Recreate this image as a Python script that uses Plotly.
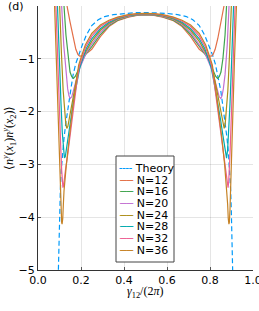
import plotly.graph_objects as go

# ---------------- data ----------------
series_names = ["Theory", "N=12", "N=16", "N=20", "N=24", "N=28", "N=32", "N=36"]
series_colors = ["#009AFA", "#E36F47", "#3EA44E", "#C371D2", "#AC8E18", "#00AAAE", "#ED5E93", "#C68225"]

theory_x = [0.093, 0.096, 0.098, 0.101, 0.104, 0.108, 0.114, 0.121, 0.130, 0.140, 0.150, 0.162, 0.175, 0.188,
            0.205, 0.225, 0.25, 0.28, 0.31, 0.35, 0.40, 0.45, 0.50,
            0.55, 0.60, 0.65, 0.69, 0.72, 0.75, 0.775, 0.795, 0.812, 0.825, 0.838, 0.85, 0.86, 0.87,
            0.879, 0.886, 0.892, 0.896, 0.899, 0.902, 0.904, 0.907]
theory_y = [-5.3, -4.6, -4.24, -3.86, -3.48, -3.11, -2.8, -2.5, -2.2, -1.9, -1.6, -1.33, -1.1, -0.93,
            -0.75, -0.55, -0.37, -0.26, -0.2, -0.165, -0.14, -0.127, -0.123,
            -0.127, -0.14, -0.165, -0.2, -0.26, -0.37, -0.55, -0.75, -0.93, -1.1, -1.33, -1.6, -1.9, -2.2,
            -2.5, -2.8, -3.11, -3.48, -3.86, -4.24, -4.6, -5.3]

n12_x = [0.131, 0.135, 0.149, 0.164, 0.176, 0.186, 0.194, 0.205, 0.22, 0.235, 0.25, 0.29, 0.33, 0.37, 0.42, 0.46, 0.5,
         0.54, 0.58, 0.63, 0.67, 0.71, 0.75, 0.765, 0.78, 0.795, 0.806, 0.814, 0.824, 0.836, 0.851, 0.865, 0.869]
n12_y = [0.4, 0.0, -0.3, -0.62, -0.82, -0.92, -0.95, -0.945, -0.915, -0.87, -0.82, -0.58, -0.39, -0.28, -0.21, -0.18, -0.17,
         -0.18, -0.21, -0.28, -0.39, -0.58, -0.82, -0.87, -0.915, -0.945, -0.95, -0.92, -0.82, -0.62, -0.3, 0.0, 0.4]

n16_x = [0.118, 0.121, 0.130, 0.140, 0.149, 0.157, 0.165, 0.174, 0.186, 0.200, 0.215, 0.232, 0.25, 0.29, 0.33, 0.37, 0.42, 0.46, 0.5,
         0.54, 0.58, 0.63, 0.67, 0.71, 0.75, 0.768, 0.785, 0.800, 0.814, 0.826, 0.835, 0.843, 0.851, 0.860, 0.870, 0.879, 0.882]
n16_y = [0.4, 0.0, -0.55, -1.0, -1.25, -1.34, -1.37, -1.33, -1.22, -1.08, -0.96, -0.86, -0.77, -0.54, -0.37, -0.27, -0.203, -0.174, -0.165,
         -0.174, -0.203, -0.27, -0.37, -0.54, -0.77, -0.86, -0.96, -1.08, -1.22, -1.33, -1.37, -1.34, -1.25, -1.0, -0.55, 0.0, 0.4]

n20_x = [0.107, 0.110, 0.120, 0.130, 0.138, 0.144, 0.150, 0.157, 0.166, 0.178, 0.192, 0.206, 0.222, 0.235, 0.25, 0.29, 0.33, 0.37, 0.42, 0.46, 0.5,
         0.54, 0.58, 0.63, 0.67, 0.71, 0.75, 0.765, 0.778, 0.794, 0.808, 0.822, 0.834, 0.843, 0.850, 0.856, 0.862, 0.870, 0.880, 0.890, 0.893]
n20_y = [0.4, 0.0, -0.75, -1.3, -1.57, -1.7, -1.75, -1.72, -1.6, -1.4, -1.2, -1.05, -0.91, -0.82, -0.72, -0.50, -0.35, -0.255, -0.195, -0.168, -0.16,
         -0.168, -0.195, -0.255, -0.35, -0.50, -0.72, -0.82, -0.91, -1.05, -1.2, -1.4, -1.6, -1.72, -1.75, -1.7, -1.57, -1.3, -0.75, 0.0, 0.4]

n24_x = [0.097, 0.100, 0.109, 0.117, 0.124, 0.129, 0.134, 0.139, 0.146, 0.155, 0.167, 0.183, 0.198, 0.21, 0.226, 0.25, 0.29, 0.33, 0.37, 0.42, 0.46, 0.5,
         0.54, 0.58, 0.63, 0.67, 0.71, 0.75, 0.774, 0.79, 0.802, 0.817, 0.833, 0.845, 0.854, 0.861, 0.866, 0.871, 0.876, 0.883, 0.891, 0.900, 0.903]
n24_y = [0.4, 0.0, -0.9, -1.6, -2.0, -2.22, -2.32, -2.28, -2.12, -1.9, -1.62, -1.3, -1.08, -0.96, -0.84, -0.67, -0.46, -0.33, -0.245, -0.188, -0.163, -0.155,
         -0.163, -0.188, -0.245, -0.33, -0.46, -0.67, -0.84, -0.96, -1.08, -1.3, -1.62, -1.9, -2.12, -2.28, -2.32, -2.22, -2.0, -1.6, -0.9, 0.0, 0.4]

n28_x = [0.087, 0.090, 0.099, 0.107, 0.113, 0.118, 0.123, 0.127, 0.132, 0.140, 0.151, 0.165, 0.181, 0.195, 0.206, 0.224, 0.25, 0.29, 0.33, 0.37, 0.42, 0.46, 0.5,
         0.54, 0.58, 0.63, 0.67, 0.71, 0.75, 0.776, 0.794, 0.805, 0.819, 0.835, 0.849, 0.860, 0.868, 0.873, 0.877, 0.882, 0.887, 0.893, 0.901, 0.910, 0.913]
n28_y = [0.4, 0.0, -1.0, -1.85, -2.4, -2.72, -2.88, -2.85, -2.7, -2.45, -2.15, -1.8, -1.45, -1.16, -1.02, -0.81, -0.62, -0.43, -0.31, -0.23, -0.18, -0.157, -0.15,
         -0.157, -0.18, -0.23, -0.31, -0.43, -0.62, -0.81, -1.02, -1.16, -1.45, -1.8, -2.15, -2.45, -2.7, -2.85, -2.88, -2.72, -2.4, -1.85, -1.0, 0.0, 0.4]

n32_x = [0.080, 0.083, 0.092, 0.100, 0.106, 0.110, 0.113, 0.116, 0.119, 0.122, 0.128, 0.137, 0.149, 0.163, 0.179, 0.192, 0.203, 0.222, 0.25, 0.29, 0.33, 0.37, 0.42, 0.46, 0.5,
         0.54, 0.58, 0.63, 0.67, 0.71, 0.75, 0.778, 0.797, 0.808, 0.821, 0.837, 0.851, 0.863, 0.872, 0.878, 0.881, 0.884, 0.887, 0.890, 0.894, 0.900, 0.908, 0.917, 0.920]
n32_y = [0.4, 0.0, -1.0, -2.0, -2.7, -3.1, -3.33, -3.44, -3.4, -3.28, -3.1, -2.85, -2.45, -1.98, -1.5, -1.14, -0.99, -0.77, -0.57, -0.39, -0.29, -0.22, -0.172, -0.151, -0.145,
         -0.151, -0.172, -0.22, -0.29, -0.39, -0.57, -0.77, -0.99, -1.14, -1.5, -1.98, -2.45, -2.85, -3.1, -3.28, -3.4, -3.44, -3.33, -3.1, -2.7, -2.0, -1.0, 0.0, 0.4]

n36_x = [0.074, 0.077, 0.086, 0.094, 0.100, 0.104, 0.107, 0.110, 0.112, 0.115, 0.118, 0.121, 0.132, 0.145, 0.159, 0.176, 0.189, 0.20, 0.22, 0.25, 0.29, 0.33, 0.37, 0.42, 0.46, 0.5,
         0.54, 0.58, 0.63, 0.67, 0.71, 0.75, 0.78, 0.80, 0.811, 0.824, 0.841, 0.855, 0.868, 0.879, 0.882, 0.885, 0.888, 0.890, 0.893, 0.896, 0.900, 0.906, 0.914, 0.923, 0.926]
n36_y = [0.4, 0.0, -1.0, -2.0, -2.8, -3.4, -3.85, -4.1, -4.13, -4.03, -3.75, -3.5, -3.0, -2.5, -2.0, -1.5, -1.12, -0.98, -0.74, -0.52, -0.36, -0.27, -0.21, -0.165, -0.145, -0.14,
         -0.145, -0.165, -0.21, -0.27, -0.36, -0.52, -0.74, -0.98, -1.12, -1.5, -2.0, -2.5, -3.0, -3.5, -3.75, -4.03, -4.13, -4.1, -3.85, -3.4, -2.8, -2.0, -1.0, 0.0, 0.4]

x_tickvals = [0.0, 0.2, 0.4, 0.6, 0.8, 1.0]
x_ticktext = ["0.0", "0.2", "0.4", "0.6", "0.8", "1.0"]
y_tickvals = [0, -1, -2, -3, -4, -5]
y_ticktext = ["0", "\u22121", "\u22122", "\u22123", "\u22124", "\u22125"]

panel_label = "(d)"
x_title = "<i>\u03b3</i><sub>12</sub>/(2<i>\u03c0</i>)"
y_title = ("\u27e8<i>n</i><sup><i>y</i></sup>(<i>x</i><sub>1</sub>)"
           "<i>n</i><sup><i>y</i></sup>(<i>x</i><sub>2</sub>)\u27e9")

# ---------------- figure ----------------
all_x = [theory_x, n12_x, n16_x, n20_x, n24_x, n28_x, n32_x, n36_x]
all_y = [theory_y, n12_y, n16_y, n20_y, n24_y, n28_y, n32_y, n36_y]

fig = go.Figure()
for i, (name, col, xs, ys) in enumerate(zip(series_names, series_colors, all_x, all_y)):
    fig.add_trace(go.Scatter(
        x=xs, y=ys, mode="lines", name=name, showlegend=False,
        line=dict(color=col, width=1.2, dash="5px,3px" if i == 0 else "solid"),
    ))

SANS = "DejaVu Sans"
SERIF = "Liberation Serif"

# plot area in pixels: x 38..253, y 6..270
L, R, T, B = 38, 6, 6, 41
W, H = 259, 311
pw, ph = W - L - R, H - T - B


def px2x(px):
    return (px - L) / pw


def py2y(py):
    return (H - B - py) / ph


annotations = [
    dict(text=panel_label, x=px2x(16), y=py2y(6), xref="paper", yref="paper",
         showarrow=False, xanchor="center", yanchor="middle", font=dict(family=SANS, size=11, color="black")),
    dict(text=x_title, x=px2x(145), y=py2y(292), xref="paper", yref="paper",
         showarrow=False, xanchor="center", yanchor="middle", font=dict(family=SERIF, size=12, color="black")),
    dict(text=y_title, x=px2x(9), y=py2y(138), xref="paper", yref="paper", textangle=-90,
         showarrow=False, xanchor="center", yanchor="middle", font=dict(family=SERIF, size=12, color="black")),
]

# compact legend (text entries with coloured line glyphs)
leg_top = 168.3
leg_step = 11.7
for i, (name, col) in enumerate(zip(series_names, series_colors)):
    glyph = "\u254c\u254c" if i == 0 else "\u2500\u2500"
    annotations.append(dict(
        text=f"<span style='color:{col}'>{glyph}</span> {name}",
        x=px2x(117), y=py2y(leg_top + i * leg_step), xref="paper", yref="paper",
        showarrow=False, xanchor="left", yanchor="middle",
        font=dict(family=SANS, size=11, color="black"),
    ))

shapes = [dict(type="rect", xref="paper", yref="paper",
               x0=px2x(116), x1=px2x(174), y0=py2y(262), y1=py2y(156),
               line=dict(color="#444444", width=1), fillcolor="white", layer="above")]

fig.update_layout(
    width=W, height=H, autosize=False,
    margin=dict(l=L, r=R, t=T, b=B, pad=0, autoexpand=False),
    paper_bgcolor="white", plot_bgcolor="white",
    font=dict(family=SANS, size=11, color="black"),
    annotations=annotations, shapes=shapes,
    showlegend=False,
)
fig.update_xaxes(
    range=[0, 1], tickvals=x_tickvals, ticktext=x_ticktext, automargin=False,
    showgrid=True, gridcolor="rgba(0,0,0,0.1)", gridwidth=0.5,
    showline=True, linecolor="#333333", linewidth=1, mirror=False,
    ticks="inside", ticklen=3, tickcolor="#555555", zeroline=False,
    tickfont=dict(family=SANS, size=11, color="black"),
    ticklabeloverflow="allow",
)
fig.update_yaxes(
    range=[-5, 0], tickvals=y_tickvals, ticktext=y_ticktext, automargin=False,
    showgrid=True, gridcolor="rgba(0,0,0,0.1)", gridwidth=0.5,
    showline=True, linecolor="#333333", linewidth=1, mirror=False,
    ticks="inside", ticklen=3, tickcolor="#555555", zeroline=False,
    tickfont=dict(family=SANS, size=11, color="black"),
)

post = """
(function(){
  var de=document.documentElement, b=document.body;
  de.style.margin='0'; de.style.padding='0'; de.style.overflow='hidden';
  b.style.margin='0'; b.style.padding='0'; b.style.overflow='hidden';
  var gd=document.getElementById('{plot_id}');
  gd.style.width='259px'; gd.style.height='311px';
  function fix(){
    var fl=gd._fullLayout;
    if(!fl || fl.width!==259 || fl.height!==311){ Plotly.relayout(gd,{width:259,height:311}); }
  }
  fix();
  window.addEventListener('load', fix);
  window.addEventListener('resize', function(){ setTimeout(fix, 0); });
  [50,200,500,1000].forEach(function(t){ setTimeout(fix, t); });
})();
"""

fig.write_html("out.html", config={"responsive": False, "displayModeBar": False}, post_script=post)
